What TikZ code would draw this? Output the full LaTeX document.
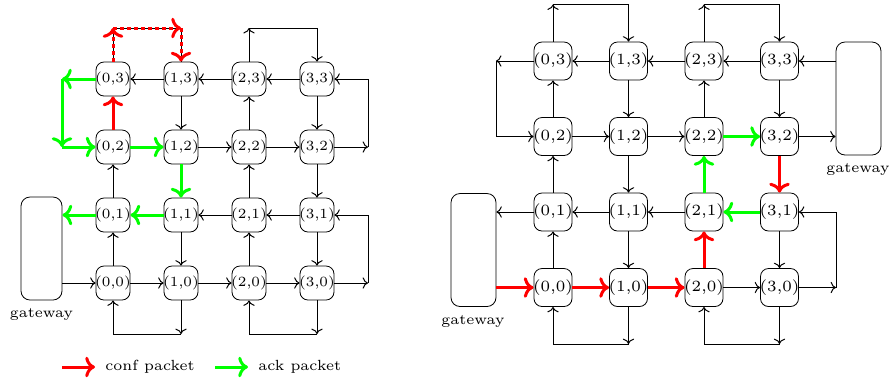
\documentclass[tikz,border=0pt]{standalone}
\usetikzlibrary{arrows.meta}
\newcommand\sizedtext[2]{\scalebox{#1}{\fontsize{6}{7}\selectfont #2}}
\tikzset{
  lnode/.style={draw, rounded corners=4pt, minimum size=17pt, inner sep=0pt},
  rnode/.style={draw, rounded corners=4pt, minimum size=19pt, inner sep=0pt},
  gw/.style={draw, rounded corners=4.5pt, inner sep=0pt},
  lbl/.style={inner sep=0pt},
  ln/.style={->, line width=0.5pt},
  conf/.style={->, red, line width=1.5pt},
  ack/.style={->, green, line width=1.5pt},
  confdot/.style={->, red, line width=1.5pt, dash pattern=on 1.75pt off 1.75pt},
}
\begin{document}
\begin{tikzpicture}[x=0.5pt,y=-0.5pt]
\useasboundingbox (0,0) rectangle (889,377);
% ---------------- left grid ----------------
\foreach \i/\x in {0/113,1/181,2/249,3/317}{
  \foreach \j/\y in {0/283,1/215,2/147,3/79}{
    \node[lnode] (L\i\j) at (\x,\y) {\makebox[0pt]{\sizedtext{1.17}{(\i,\j)}}};
  }
}
\node[gw, minimum width=20.5pt, minimum height=51.5pt] (gL) at (41.5,248.5) {};
\node[lbl] (gLt) at (41.5,314) {\sizedtext{1.225}{gateway}};
\coordinate (cLR3) at (368,147);
\coordinate (cLR1) at (368,283);
\coordinate (cLT) at (249,28);
\coordinate (cLB1) at (181,334);
\coordinate (cLB3) at (317,334);
\coordinate (cD1) at (113,28);
\coordinate (cD2) at (181,28);
\coordinate (cG1) at (62,79);
\coordinate (cG2) at (62,147);
% row 3
\draw[ln] (L13) -- (L03);
\draw[ln] (L23) -- (L13);
\draw[ln] (L33) -- (L23);
\draw[ln] (cLR3) |- (L33);
% row 2
\draw[ack] (L02) -- (L12);
\draw[ln] (L12) -- (L22);
\draw[ln] (L22) -- (L32);
\draw[ln] (L32) -- (cLR3);
% columns 2-3
\draw[conf] (L02) -- (L03);
\draw[ln] (L13) -- (L12);
\draw[ln] (L22) -- (L23);
\draw[ln] (L33) -- (L32);
% columns 1-2
\draw[ln] (L01) -- (L02);
\draw[ack] (L12) -- (L11);
\draw[ln] (L21) -- (L22);
\draw[ln] (L32) -- (L31);
% row 1
\draw[ack] (L01) -- (L01 -| gL.east);
\draw[ack] (L11) -- (L01);
\draw[ln] (L21) -- (L11);
\draw[ln] (L31) -- (L21);
\draw[ln] (cLR1) |- (L31);
% columns 0-1
\draw[ln] (L00) -- (L01);
\draw[ln] (L11) -- (L10);
\draw[ln] (L20) -- (L21);
\draw[ln] (L31) -- (L30);
% row 0
\draw[ln] (L00 -| gL.east) -- (L00);
\draw[ln] (L00) -- (L10);
\draw[ln] (L10) -- (L20);
\draw[ln] (L20) -- (L30);
\draw[ln] (L30) -- (cLR1);
% wraps
\draw[ln] (L23) -- (cLT);
\draw[ln] (cLT) -| (L33);
\draw[ln] (L10) -- (cLB1);
\draw[ln] (cLB1) -| (L00);
\draw[ln] (L30) -- (cLB3);
\draw[ln] (cLB3) -| (L20);
% dotted conf path
\draw[line width=0.5pt] (L03) -- (cD1) -- (cD2) -- (L13);
\draw[confdot] (L03) -- (cD1);
\draw[confdot] (cD1) -- (cD2);
\draw[confdot] (cD2) -- (L13);
% green ack path
\draw[ack] (L03) -- (cG1);
\draw[ack] (cG1) -- (cG2);
\draw[ack] (cG2) -- (L02);
% ---------------- right grid ----------------
\foreach \i/\x in {0/553,1/628.5,2/704,3/779.5}{
  \foreach \j/\y in {0/287.5,1/212,2/136.5,3/61}{
    \node[rnode] (R\i\j) at (\x,\y) {\makebox[0pt]{\sizedtext{1.3}{(\i,\j)}}};
  }
}
\node[gw, minimum width=22.5pt, minimum height=56.5pt] (gR) at (858.5,98.5) {};
\node[lbl] (gRt) at (858,169) {\sizedtext{1.225}{gateway}};
\node[gw, minimum width=22.5pt, minimum height=56.5pt] (gS) at (473.5,250) {};
\node[lbl] (gSt) at (473,321) {\sizedtext{1.225}{gateway}};
\coordinate (cRL3) at (496,61);
\coordinate (cRR0) at (836,287.5);
\coordinate (cRT0) at (553,4.5);
\coordinate (cRT2) at (704,4.5);
\coordinate (cRB1) at (628.5,344);
\coordinate (cRB3) at (779.5,344);
% row 3
\draw[ln] (R33 -| gR.west) -- (R33);
\draw[ln] (R33) -- (R23);
\draw[ln] (R23) -- (R13);
\draw[ln] (R13) -- (R03);
\draw[ln] (R03) -- (cRL3);
\draw[ln] (cRL3) |- (R02);
% row 2
\draw[ln] (R02) -- (R12);
\draw[ln] (R12) -- (R22);
\draw[ack] (R22) -- (R32);
\draw[ln] (R32) -- (R32 -| gR.west);
% columns 2-3
\draw[ln] (R02) -- (R03);
\draw[ln] (R13) -- (R12);
\draw[ln] (R22) -- (R23);
\draw[ln] (R33) -- (R32);
% top wraps
\draw[ln] (R03) -- (cRT0);
\draw[ln] (cRT0) -| (R13);
\draw[ln] (R23) -- (cRT2);
\draw[ln] (cRT2) -| (R33);
% columns 1-2
\draw[ln] (R01) -- (R02);
\draw[ln] (R12) -- (R11);
\draw[ack] (R21) -- (R22);
\draw[conf] (R32) -- (R31);
% row 1
\draw[ln] (R01) -- (R01 -| gS.east);
\draw[ln] (R11) -- (R01);
\draw[ln] (R21) -- (R11);
\draw[ack] (R31) -- (R21);
\draw[ln] (cRR0) |- (R31);
% columns 0-1
\draw[ln] (R00) -- (R01);
\draw[ln] (R11) -- (R10);
\draw[conf] (R20) -- (R21);
\draw[ln] (R31) -- (R30);
% row 0
\draw[conf] (R00 -| gS.east) -- (R00);
\draw[conf] (R00) -- (R10);
\draw[conf] (R10) -- (R20);
\draw[ln] (R20) -- (R30);
\draw[ln] (R30) -- (cRR0);
% bottom wraps
\draw[ln] (R10) -- (cRB1);
\draw[ln] (cRB1) -| (R00);
\draw[ln] (R30) -- (cRB3);
\draw[ln] (cRB3) -| (R20);
% ---------------- legend ----------------
\coordinate (lg1a) at (62,367);
\coordinate (lg1b) at (95,367);
\coordinate (lg2a) at (215,367);
\coordinate (lg2b) at (248,367);
\draw[conf] (lg1a) -- (lg1b);
\node[lbl, anchor=west] (lt1) at (105,367) {\sizedtext{1.225}{conf packet}};
\draw[ack] (lg2a) -- (lg2b);
\node[lbl, anchor=west] (lt2) at (258,367) {\sizedtext{1.225}{ack packet}};
\end{tikzpicture}
\end{document}
